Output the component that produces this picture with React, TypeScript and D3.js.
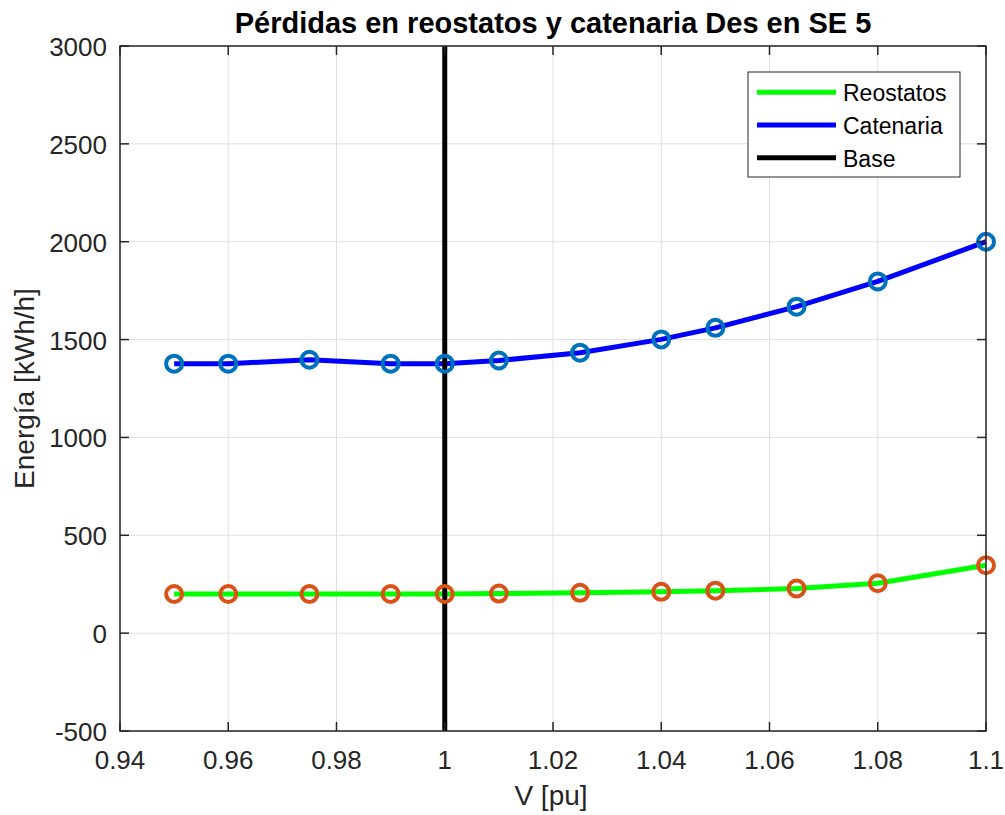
import React from "react";
import * as d3 from "d3";

const voltages = [0.95, 0.96, 0.975, 0.99, 1.0, 1.01, 1.025, 1.04, 1.05, 1.065, 1.08, 1.1];
const reostatos = [200, 200, 200, 200, 200, 202, 206, 211, 217, 228, 255, 347];
const catenaria = [1377, 1377, 1397, 1377, 1377, 1393, 1433, 1501, 1560, 1668, 1797, 2000];
const baseV = 1.0;
const xTicks = [0.94, 0.96, 0.98, 1, 1.02, 1.04, 1.06, 1.08, 1.1];
const yTicks = [-500, 0, 500, 1000, 1500, 2000, 2500, 3000];
const legendItems = [
  { label: "Reostatos", color: "#00FF00" },
  { label: "Catenaria", color: "#0000FF" },
  { label: "Base", color: "#000000" },
];

const W = 1005;
const H = 815;
const left = 120;
const right = 986;
const top = 46;
const bottom = 731;
const font = "'Liberation Sans', Arial, Helvetica, sans-serif";
const textColor = "#262626";

export default function App() {
  const x = d3.scaleLinear().domain([0.94, 1.1]).range([left, right]);
  const y = d3.scaleLinear().domain([-500, 3000]).range([bottom, top]);
  const line = d3
    .line<number>()
    .x((_, i) => x(voltages[i]))
    .y((d) => y(d));

  const fmt = (v: number) => String(+v.toFixed(2));

  return (
    <svg width={W} height={H} style={{ position: "absolute", left: 0, top: 0 }} fontFamily={font}>
      <rect x={0} y={0} width={W} height={H} fill="#ffffff" />
      {/* grid */}
      {xTicks.map((t) => (
        <line key={"gx" + t} x1={x(t)} x2={x(t)} y1={top} y2={bottom} stroke="#dfdfdf" strokeWidth={1} />
      ))}
      {yTicks.map((t) => (
        <line key={"gy" + t} x1={left} x2={right} y1={y(t)} y2={y(t)} stroke="#dfdfdf" strokeWidth={1} />
      ))}
      {/* series lines */}
      <path d={line(reostatos) || ""} fill="none" stroke="#00FF00" strokeWidth={5} strokeLinejoin="round" />
      <path d={line(catenaria) || ""} fill="none" stroke="#0000FF" strokeWidth={5} strokeLinejoin="round" />
      {/* base voltage */}
      <line x1={x(baseV)} x2={x(baseV)} y1={y(-500)} y2={y(3000)} stroke="#000000" strokeWidth={5} />
      {/* markers */}
      {reostatos.map((v, i) => (
        <circle key={"mr" + i} cx={x(voltages[i])} cy={y(v)} r={8} fill="none" stroke="#D95319" strokeWidth={4} />
      ))}
      {catenaria.map((v, i) => (
        <circle key={"mc" + i} cx={x(voltages[i])} cy={y(v)} r={8} fill="none" stroke="#0072BD" strokeWidth={4} />
      ))}
      {/* axes box */}
      <rect x={left} y={top} width={right - left} height={bottom - top} fill="none" stroke="#262626" strokeWidth={1.5} />
      {xTicks.map((t) => (
        <g key={"tx" + t}>
          <line x1={x(t)} x2={x(t)} y1={bottom} y2={bottom - 9} stroke="#262626" strokeWidth={1.5} />
          <line x1={x(t)} x2={x(t)} y1={top} y2={top + 9} stroke="#262626" strokeWidth={1.5} />
          <text x={x(t)} y={769} textAnchor="middle" fontSize={26} fill={textColor}>
            {fmt(t)}
          </text>
        </g>
      ))}
      {yTicks.map((t) => (
        <g key={"ty" + t}>
          <line x1={left} x2={left + 9} y1={y(t)} y2={y(t)} stroke="#262626" strokeWidth={1.5} />
          <line x1={right} x2={right - 9} y1={y(t)} y2={y(t)} stroke="#262626" strokeWidth={1.5} />
          <text x={left - 13} y={y(t) + 10} textAnchor="end" fontSize={26} fill={textColor}>
            {t}
          </text>
        </g>
      ))}
      {/* labels */}
      <text x={553} y={33} textAnchor="middle" fontSize={29} fontWeight="bold" fill="#000000">
        Pérdidas en reostatos y catenaria Des en SE 5
      </text>
      <text x={551} y={805} textAnchor="middle" fontSize={28} fill={textColor}>
        V [pu]
      </text>
      <text
        transform={`translate(34, ${(top + bottom) / 2}) rotate(-90)`}
        textAnchor="middle"
        fontSize={28}
        fill={textColor}
      >
        Energía [kWh/h]
      </text>
      {/* legend */}
      <rect x={748} y={72} width={212} height={105} fill="#ffffff" stroke="#262626" strokeWidth={1} />
      {legendItems.map((it, i) => (
        <g key={it.label}>
          <line x1={757} x2={836} y1={92.3 + i * 32.7} y2={92.3 + i * 32.7} stroke={it.color} strokeWidth={5} />
          <text x={843} y={101 + i * 32.8} fontSize={23} fill="#000000">
            {it.label}
          </text>
        </g>
      ))}
    </svg>
  );
}
